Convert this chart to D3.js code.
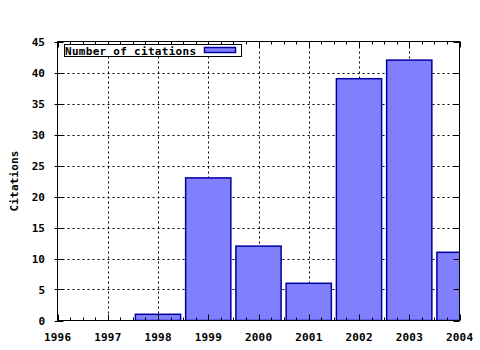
<!DOCTYPE html>
<html>
<head>
<meta charset="utf-8">
<script src="https://cdn.jsdelivr.net/npm/d3@7/dist/d3.min.js"></script>
<style>
html,body{margin:0;padding:0;background:#fff;}
svg text{font-family:"DejaVu Sans Mono",monospace;font-weight:bold;font-size:11px;fill:#000;}
</style>
</head>
<body>
<svg id="chart" width="480" height="350"></svg>
<script>
const years = [1996, 1997, 1998, 1999, 2000, 2001, 2002, 2003, 2004];
const citations = [0, 0, 1, 23, 12, 6, 39, 42, 11];
const yTicks = [0, 5, 10, 15, 20, 25, 30, 35, 40, 45];
const seriesName = "Number of citations";
const yLabel = "Citations";

const svg = d3.select("#chart");
const L = 57.5, R = 459.5, T = 41.5, B = 320.5;
const x = d3.scaleLinear().domain([1996, 2004]).range([L, R]);
const y = d3.scaleLinear().domain([0, 45]).range([B, T]);

svg.append("defs").append("clipPath").attr("id", "clip")
  .append("rect").attr("x", L).attr("y", T).attr("width", R - L).attr("height", B - T);

// grid
const grid = svg.append("g").attr("stroke", "#000").attr("stroke-width", 1).attr("stroke-dasharray", "2,3");
years.slice(1, -1).forEach(v => {
  grid.append("line").attr("x1", Math.round(x(v)) + 0.5).attr("x2", Math.round(x(v)) + 0.5)
    .attr("y1", T).attr("y2", B);
});
yTicks.slice(1, -1).forEach(v => {
  grid.append("line").attr("x1", L).attr("x2", R)
    .attr("y1", Math.round(y(v)) + 0.5).attr("y2", Math.round(y(v)) + 0.5);
});

// bars
const bw = (x(1997) - x(1996)) * 0.9;
svg.append("g").attr("clip-path", "url(#clip)")
  .selectAll("rect").data(years.map((yr, i) => ({yr, v: citations[i]})).filter(d => d.v > 0))
  .join("rect")
  .attr("x", d => x(d.yr) - bw / 2)
  .attr("width", bw)
  .attr("y", d => y(d.v))
  .attr("height", d => y(0) - y(d.v))
  .attr("fill", "#8080ff")
  .attr("stroke", "#0000a0")
  .attr("stroke-width", 1.5);

// ticks
const tk = svg.append("g").attr("stroke", "#000").attr("stroke-width", 1);
years.forEach(v => {
  const px = Math.round(x(v)) + 0.5;
  tk.append("line").attr("x1", px).attr("x2", px).attr("y1", B).attr("y2", B - 6);
  tk.append("line").attr("x1", px).attr("x2", px).attr("y1", T).attr("y2", T + 6);
});
for (let i = 0; i < years.length - 1; i++) {
  for (let k = 1; k < 4; k++) {
    const px = Math.round(x(years[i] + k * 0.25)) + 0.5;
    tk.append("line").attr("x1", px).attr("x2", px).attr("y1", B).attr("y2", B - 3);
    tk.append("line").attr("x1", px).attr("x2", px).attr("y1", T).attr("y2", T + 3);
  }
}
yTicks.forEach(v => {
  const py = Math.round(y(v)) + 0.5;
  tk.append("line").attr("x1", L - 3).attr("x2", L + 6).attr("y1", py).attr("y2", py);
  tk.append("line").attr("x1", R - 6).attr("x2", R).attr("y1", py).attr("y2", py);
});

// border
svg.append("rect").attr("x", L).attr("y", T).attr("width", R - L).attr("height", B - T)
  .attr("fill", "none").attr("stroke", "#000").attr("stroke-width", 1);

// tick labels
svg.append("g").selectAll("text").data(years).join("text")
  .attr("x", d => x(d)).attr("y", 341).attr("text-anchor", "middle")
  .attr("textLength", 27).attr("lengthAdjust", "spacing").text(d => d);
svg.append("g").selectAll("text").data(yTicks).join("text")
  .attr("x", 45).attr("y", d => y(d) + 4).attr("text-anchor", "end").text(d => d);

// axis label
svg.append("text").attr("transform", "translate(17.5,181) rotate(-90)")
  .attr("text-anchor", "middle").attr("textLength", 61).attr("lengthAdjust", "spacing").text(yLabel);

// legend
svg.append("rect").attr("x", 64.5).attr("y", 44.5).attr("width", 177).attr("height", 12)
  .attr("fill", "#fff").attr("stroke", "#000").attr("stroke-width", 1);
svg.append("text").attr("x", 65).attr("y", 54.5).attr("textLength", 131).attr("lengthAdjust", "spacing")
  .text(seriesName);
svg.append("rect").attr("x", 204.5).attr("y", 47.5).attr("width", 31).attr("height", 5)
  .attr("fill", "#8080ff").attr("stroke", "#0000a0").attr("stroke-width", 1.5);
</script>
</body>
</html>
